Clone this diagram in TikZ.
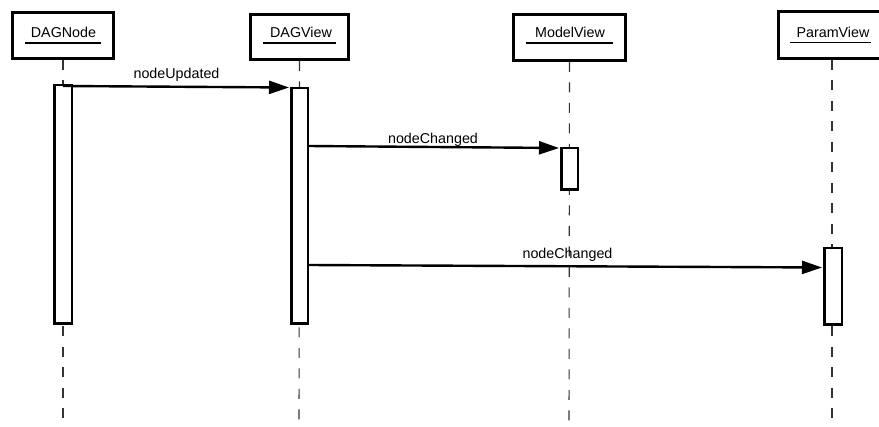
\documentclass[tikz,border=0pt]{standalone}
\usepackage{fontspec}
\setmainfont{Liberation Sans}
\usetikzlibrary{arrows.meta}
\begin{document}
\begin{tikzpicture}[x=1pt,y=-1pt,
  lbl/.style={font=\fontsize{14.3}{16}\selectfont, inner sep=0pt},
  headbox/.style={draw, line width=2.7pt, fill=white, inner sep=0pt},
  actbox/.style={draw, line width=2.5pt, fill=white, inner sep=0pt},
  lifeline/.style={draw=black!80, line width=1.1pt, dash pattern=on 10pt off 10.5pt},
  msg/.style={line width=2.4pt, -{Triangle[length=20pt,width=13pt]}, shorten >=1pt},
  uline/.style={line width=1.3pt}
]
\useasboundingbox (0,0) rectangle (879,427);
\clip (0,0) rectangle (879,427);

% object headers
\node[headbox, minimum width=101pt, minimum height=46pt] (hDN) at (63,35.5) {};
\node[headbox, minimum width=98pt,  minimum height=45pt] (hDV) at (299.5,37) {};
\node[headbox, minimum width=112pt, minimum height=46pt] (hMV) at (569.5,37.5) {};
\node[headbox, minimum width=107pt, minimum height=47pt] (hPV) at (832,35) {};

% lower ends of the lifelines
\coordinate (eDN) at (63,430);
\coordinate (eDV) at (299,430);
\coordinate (eMV) at (569,430);
\coordinate (ePV) at (832,430);

% lifelines
\draw[lifeline] (hDN.south) -- (eDN);
\draw[lifeline] (hDV.south) -- (eDV);
\draw[lifeline] (hMV.south) -- (eMV);
\draw[lifeline] (hPV.south) -- (ePV);

% header names, underlined
\node[lbl, anchor=base] (tDN) at (63.5,38) {DAGNode};
\node[lbl, anchor=base] (tDV) at (301,38) {DAGView};
\node[lbl, anchor=base] (tMV) at (570,38) {ModelView};
\node[lbl, anchor=base] (tPV) at (833,38) {ParamView};
\draw[uline] (25,43) -- (101,43);
\draw[uline] (263,43) -- (336,43);
\draw[uline] (526,43) -- (613,43);
\draw[uline] (790,42.5) -- (871,42.5);

% activation bars
\node[actbox, minimum width=17.5pt, minimum height=238.5pt] (aDN) at (63,204.5) {};
\node[actbox, minimum width=16.5pt, minimum height=235.5pt] (aDV) at (299.5,206) {};
\node[actbox, minimum width=16.5pt, minimum height=41.5pt]  (aMV) at (569.5,169) {};
\node[actbox, minimum width=17.5pt, minimum height=76.5pt]  (aPV) at (833,286.5) {};

% message end points
\coordinate (m0s) at (63,86);
\coordinate (m0e) at (290,87.5);
\coordinate (m1s) at (308,146);
\coordinate (m1e) at (560,148);
\coordinate (m2s) at (308,265);
\coordinate (m2e) at (823,267.5);

% messages
\draw[msg] (m0s) -- (m0e);
\draw[msg] (m1s) -- (m1e);
\draw[msg] (m2s) -- (m2e);

\node[lbl, anchor=base] (l0) at (176.5,79) {nodeUpdated};
\node[lbl, anchor=base] (l1) at (433,144) {nodeChanged};
\node[lbl, anchor=base] (l2) at (567.5,258.5) {nodeChanged};
\end{tikzpicture}
\end{document}
